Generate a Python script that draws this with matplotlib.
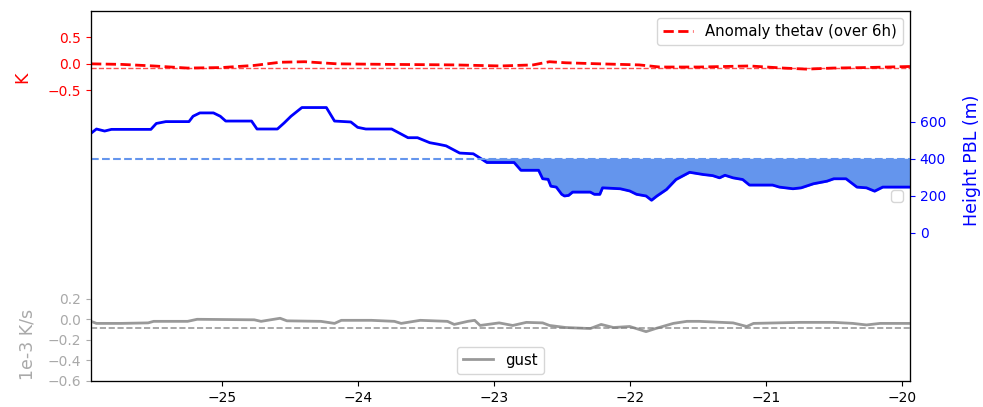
import numpy as np
import matplotlib
matplotlib.use('Agg')
import matplotlib.pyplot as plt

# anomaly thetav (K)
theta_x = [-25.96, -25.74, -25.50, -25.25, -25.00, -24.76, -24.57, -24.39, -24.15, -23.78,
           -23.29, -22.95, -22.71, -22.59, -22.47, -22.22, -21.93, -21.78, -21.49, -21.12,
           -20.87, -20.70, -20.51, -20.26, -19.94]
theta_y = [0.00, -0.01, -0.04, -0.08, -0.07, -0.03, 0.03, 0.04, 0.00, -0.01,
           -0.02, -0.04, -0.02, 0.04, 0.02, 0.00, -0.02, -0.06, -0.06, -0.04,
           -0.08, -0.10, -0.08, -0.07, -0.05]
theta_ref = -0.07

# boundary layer height (m)
pbl_x = [-25.96, -25.92, -25.86, -25.81, -25.52, -25.48, -25.41, -25.24, -25.21, -25.16,
         -25.06, -25.01, -24.97, -24.78, -24.74, -24.59, -24.54, -24.49, -24.41, -24.23,
         -24.17, -24.05, -24.00, -23.94, -23.75, -23.63, -23.56, -23.47, -23.41, -23.35,
         -23.25, -23.15, -23.10, -23.05, -22.85, -22.80, -22.67, -22.64, -22.60, -22.58,
         -22.54, -22.50, -22.48, -22.45, -22.42, -22.29, -22.26, -22.22, -22.20, -22.07,
         -22.00, -21.95, -21.88, -21.84, -21.80, -21.73, -21.66, -21.56, -21.46, -21.39,
         -21.34, -21.30, -21.24, -21.17, -21.12, -20.95, -20.90, -20.80, -20.74, -20.65,
         -20.55, -20.50, -20.41, -20.33, -20.26, -20.20, -20.14, -19.94]
pbl_y = [539, 562, 551, 560, 560, 592, 602, 602, 631, 649,
         649, 631, 605, 605, 562, 562, 595, 631, 678, 678,
         605, 600, 571, 562, 562, 515, 515, 488, 480, 471,
         432, 428, 405, 381, 381, 339, 339, 293, 290, 253,
         248, 209, 200, 203, 221, 221, 209, 209, 244, 239,
         227, 209, 200, 177, 200, 235, 289, 328, 316, 310,
         298, 312, 298, 289, 259, 259, 248, 239, 244, 266,
         280, 293, 293, 248, 244, 226, 248, 248]
pbl_ref = 400

# gust (1e-3 K/s)
gust_x = [-25.96, -25.92, -25.74, -25.54, -25.50, -25.25, -25.18, -24.76, -24.71, -24.57,
          -24.52, -24.27, -24.17, -24.12, -23.90, -23.73, -23.68, -23.54, -23.34, -23.29,
          -23.19, -23.14, -23.10, -22.96, -22.86, -22.76, -22.64, -22.59, -22.47, -22.29,
          -22.21, -22.12, -22.00, -21.88, -21.81, -21.68, -21.58, -21.49, -21.24, -21.14,
          -21.09, -20.75, -20.50, -20.36, -20.26, -20.16, -19.94]
gust_y = [-0.02, -0.04, -0.04, -0.035, -0.02, -0.02, 0.00, -0.005, -0.02, 0.01,
          -0.015, -0.02, -0.04, -0.01, -0.01, -0.02, -0.04, -0.01, -0.02, -0.05,
          -0.02, -0.01, -0.06, -0.035, -0.06, -0.03, -0.035, -0.06, -0.08, -0.09,
          -0.05, -0.08, -0.07, -0.12, -0.09, -0.04, -0.02, -0.02, -0.035, -0.07,
          -0.04, -0.03, -0.03, -0.04, -0.055, -0.04, -0.04]
gust_ref = -0.085

fig, ax = plt.subplots(figsize=(9.83, 4.07), dpi=100)
fig.subplots_adjust(left=0.0926, right=0.9257, bottom=0.064, top=0.973)

lab_fs = 12.5
leg_fs = 10.7

# thetav anomaly (top, red)
ax.plot(theta_x, theta_y, color='red', ls='--', lw=2, label='Anomaly thetav (over 6h)')
ax.axhline(theta_ref, color='red', ls='--', lw=1, alpha=0.7)
ax.set_ylim(-6, 1)
ax.set_yticks([-0.5, 0.0, 0.5])
ax.set_ylabel('K', color='red', fontsize=lab_fs)
ax.yaxis.set_label_coords(-0.073, 0.82)
ax.tick_params(axis='y', colors='red')
ax.set_xlim(-25.96, -19.94)
ax.legend(loc='upper right', fontsize=leg_fs)

# PBL height (middle, blue)
ax2 = ax.twinx()
pbl = np.array(pbl_y, dtype=float)
ax2.plot(pbl_x, pbl, color='blue', lw=2)
ax2.axhline(pbl_ref, color='cornflowerblue', ls='--', lw=1.5)
ax2.fill_between(pbl_x, pbl, pbl_ref, where=pbl <= pbl_ref, interpolate=True,
                 color='cornflowerblue')
ax2.set_ylim(-800, 1200)
ax2.set_yticks([0, 200, 400, 600])
ax2.set_ylabel('Height PBL (m)', color='blue', fontsize=lab_fs)
ax2.yaxis.set_label_coords(1.065, 0.597)
ax2.tick_params(axis='y', colors='blue')
ax2.legend(loc='center right', fontsize=leg_fs)

# gust (bottom, grey)
ax3 = ax.twinx()
ax3.yaxis.set_ticks_position('left')
ax3.yaxis.set_label_position('left')
ax3.plot(gust_x, gust_y, color='grey', lw=2, alpha=0.8, label='gust')
ax3.axhline(gust_ref, color='grey', ls='--', lw=1.2, alpha=0.8)
ax3.set_ylim(-0.6, 3.0)
ax3.set_yticks([-0.6, -0.4, -0.2, 0.0, 0.2])
ax3.set_ylabel('1e-3 K/s', color='darkgrey', fontsize=lab_fs)
ax3.yaxis.set_label_coords(-0.066, 0.1)
ax3.tick_params(axis='y', colors='darkgrey')
ax3.legend(loc='lower center', fontsize=leg_fs)

ax.set_xticks([-25, -24, -23, -22, -21, -20])

plt.savefig('out.png', dpi=100)
